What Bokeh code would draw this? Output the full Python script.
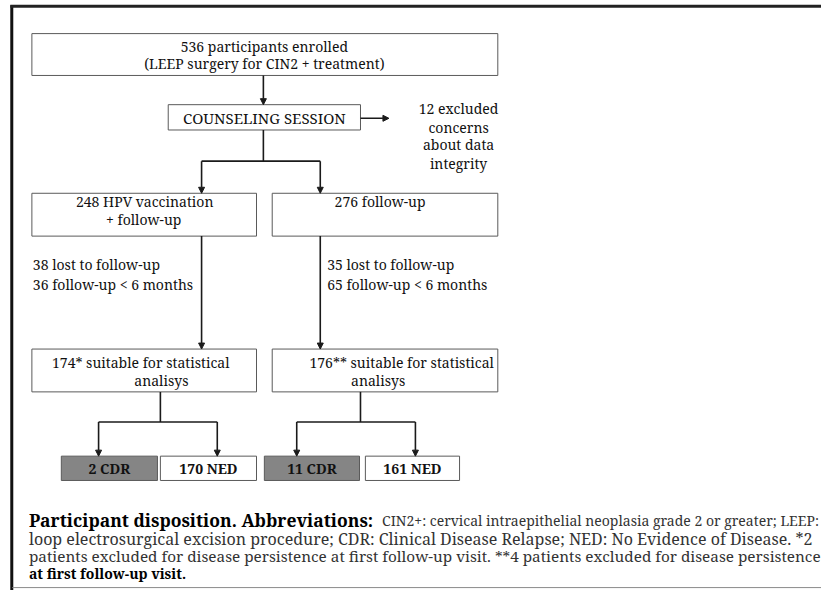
from bokeh.plotting import figure
from bokeh.models import Arrow, NormalHead, ColumnDataSource
from bokeh.core.properties import value
from bokeh.embed import file_html
from bokeh.resources import INLINE

# ---------------- data ----------------
enrolled_lines = ["536 participants enrolled", "(LEEP surgery for CIN2 + treatment)"]
counseling_label = "COUNSELING SESSION"
excluded_lines = ["12 excluded", "concerns", "about data", "integrity"]
arm_lines = [["248 HPV vaccination", "+ follow-up"], ["276 follow-up"]]
lost_counts = [38, 35]
short_fu_counts = [36, 65]
suitable_counts = [174, 176]
suitable_marks = ["*", "**"]
cdr_counts = [2, 11]
ned_counts = [170, 161]
caption_bold_1 = "Participant disposition. Abbreviations:"
caption_reg_1 = "CIN2+: cervical intraepithelial neoplasia grade 2 or greater; LEEP:"
caption_lines = [
    "loop electrosurgical excision procedure; CDR: Clinical Disease Relapse; NED: No Evidence of Disease. *2",
    "patients excluded for disease persistence at first follow-up visit. **4 patients excluded for disease persistence",
]
caption_bold_last = "at first follow-up visit."

# ---------------- layout (reference-pixel coordinates) ----------------
BOX_FONT = "Noto Serif"
CAP_FONT = "Noto Serif"
BOX_FS = "14px"
BOX_LINE = "#5a5a5a"
CONN = "#1a1a1a"
GRAY = "#858585"

p = figure(width=821, height=590, x_range=(0, 837), y_range=(606, 0),
           output_backend="svg", toolbar_location=None,
           x_axis_location=None, y_axis_location=None, min_border=0)
p.grid.visible = False
p.outline_line_color = None
p.background_fill_color = "white"

# outer frame
p.segment(x0=[11.5], y0=[5], x1=[11.5], y1=[606], line_color="#111111", line_width=3)
p.segment(x0=[10], y0=[6], x1=[837], y1=[6], line_color="#222222", line_width=3)
p.segment(x0=[12], y0=[603], x1=[837], y1=[603], line_color="#8a8a8a", line_width=1)

# boxes
box_l = [32, 171, 32, 277, 32, 277]
box_r = [507, 367, 261, 507, 261, 507]
box_t = [34, 107, 198, 198, 358, 358]
box_b = [77, 133, 242, 242, 402, 402]
p.quad(left=box_l, right=box_r, top=box_t, bottom=box_b,
       fill_color="white", line_color=BOX_LINE, line_width=1)

# outcome boxes
out_l = [62, 163, 269, 372]
out_r = [160, 261, 366, 468]
out_fill = [GRAY, "white", GRAY, "white"]
p.quad(left=out_l, right=out_r, top=[468] * 4, bottom=[493] * 4,
       fill_color=out_fill, line_color=BOX_LINE, line_width=1)

# connectors (plain lines)
seg_x0 = [268, 205, 163, 100, 367, 302]
seg_y0 = [133, 165, 402, 433, 402, 433]
seg_x1 = [268, 326, 163, 221, 367, 423]
seg_y1 = [165, 165, 433, 433, 433, 433]
p.segment(x0=seg_x0, y0=seg_y0, x1=seg_x1, y1=seg_y1, line_color=CONN, line_width=1.6)

# arrows
arr = ColumnDataSource(dict(
    x0=[268, 367, 205, 326, 205, 326, 100, 221, 302, 423],
    y0=[77, 121, 165, 165, 242, 242, 433, 433, 433, 433],
    x1=[268, 396, 205, 326, 205, 326, 100, 221, 302, 423],
    y1=[107, 121, 198, 198, 358, 358, 468, 468, 468, 468],
))
p.add_layout(Arrow(end=NormalHead(size=6, line_color=CONN, fill_color=CONN, line_width=1),
                   x_start="x0", y_start="y0", x_end="x1", y_end="y1",
                   line_color=CONN, line_width=1.6, source=arr))

def txt(x, y, s, align="center", size=BOX_FS, bold=False, color="#111111", font=BOX_FONT):
    kw = dict(x=[x], y=[y], text=[s], text_font=value(font), text_font_size=size,
              text_align=align, text_baseline="middle", text_color=color)
    if bold:
        kw["text_font_style"] = "bold"
    p.text(**kw)

# box texts
txt(269, 47, enrolled_lines[0])
txt(269, 65, enrolled_lines[1])
txt(269, 121, counseling_label, size="15px")
for yy, s in zip([111, 130, 148, 167], excluded_lines):
    txt(467, yy, s)
txt(147, 206, arm_lines[0][0])
txt(146, 225, arm_lines[0][1])
txt(387, 206, arm_lines[1][0])

for xx, lc, sc in zip([33, 333], lost_counts, short_fu_counts):
    txt(xx, 271, f"{lc} lost to follow-up", align="left")
    txt(xx, 292, f"{sc} follow-up < 6 months", align="left")

for xc, xa, n, m in zip([143, 409], [164, 385], suitable_counts, suitable_marks):
    txt(xc, 372, f"{n}{m} suitable for statistical")
    txt(xa, 390, "analisys")

for xl, xr, n in zip([out_l[0], out_l[2]], [out_r[0], out_r[2]], cdr_counts):
    txt((xl + xr) / 2, 481, f"{n} CDR", bold=True)
for xl, xr, n in zip([out_l[1], out_l[3]], [out_r[1], out_r[3]], ned_counts):
    txt((xl + xr) / 2, 481, f"{n} NED", bold=True)

# caption
txt(29, 534, caption_bold_1, align="left", size="17.5px", bold=True, color="#000000", font=CAP_FONT)
txt(389, 534, caption_reg_1, align="left", size="14px", color="#333333", font=CAP_FONT)
txt(29, 553, caption_lines[0], align="left", size="16px", color="#333333", font=CAP_FONT)
txt(29, 571, caption_lines[1], align="left", size="15.3px", color="#333333", font=CAP_FONT)
txt(29, 589, caption_bold_last, align="left", size="14px", bold=True, color="#000000", font=BOX_FONT)

open("out.html", "w").write(file_html(p, INLINE))
